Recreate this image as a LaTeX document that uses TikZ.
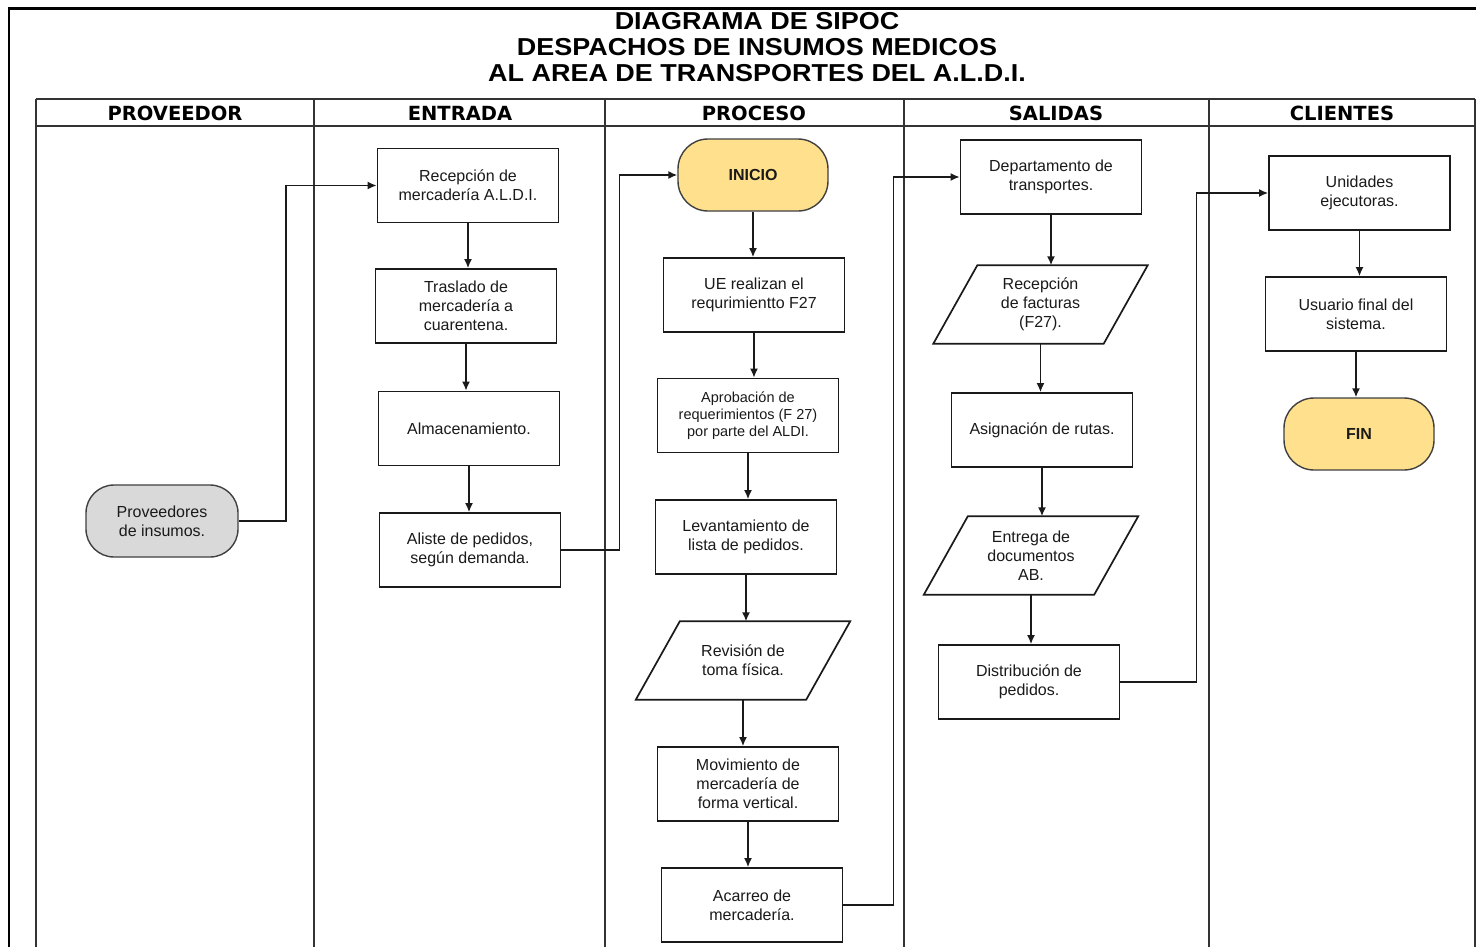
\documentclass[tikz,border=0pt]{standalone}
\usepackage{fontspec}
\setmainfont{Liberation Sans}
\newfontfamily\headfont{DejaVu Sans}
\usetikzlibrary{arrows.meta,calc}
\definecolor{startfill}{HTML}{FFE08C}
\definecolor{termgray}{HTML}{D9D9D9}
\definecolor{ink}{HTML}{1A1A1A}

\begin{document}
\begin{tikzpicture}[x=1pt,y=-1pt,
  frame/.style={line width=2.8pt, black},
  grid/.style={line width=1.8pt, black!80},
  box/.style={draw=ink, line width=1.7pt, minimum width=181pt, minimum height=74pt,
    align=center, inner sep=2pt, text=ink, font=\fontsize{16}{19}\selectfont},
  term/.style={draw=black!75, line width=1.4pt, rounded corners=30pt, fill=startfill,
    minimum width=150pt, minimum height=72pt, align=center, text=ink,
    font=\bfseries\fontsize{16}{19}\selectfont},
  paranode/.style={minimum width=170pt, minimum height=78pt, align=center, inner sep=2pt,
    text=ink, font=\fontsize{16}{19}\selectfont},
  para/.style={draw=ink, line width=1.7pt},
  head/.style={text=black, font=\headfont\bfseries\fontsize{19.5}{22}\selectfont},
  arr/.style={draw=ink, line width=1.6pt, -{Latex[length=9pt,width=8pt]}},
]
\useasboundingbox (0,0) rectangle (1476,946);
\clip (0,0) rectangle (1476,946);
\fill[white] (0,0) rectangle (1476,946);

% page frame
\draw[frame] (9,960) -- (9,8.5) -- (1490,8.5);

% title
\node[align=center, text=black, font=\bfseries\fontsize{24.5}{26}\selectfont] (title) at (757,47)
  {\scalebox{1.1}[1]{DIAGRAMA DE SIPOC}\\
   \scalebox{1.1}[1]{DESPACHOS DE INSUMOS MEDICOS}\\
   \scalebox{1.1}[1]{AL AREA DE TRANSPORTES DEL A.L.D.I.}};

% SIPOC table
\draw[grid] (36,99) -- (1475,99);
\draw[grid] (36,126) -- (1475,126);
\foreach \cx in {36,314,605,904,1209,1475}
  \draw[grid] (\cx,99) -- (\cx,960);

\node[head] (hprov) at (175,113) {PROVEEDOR};
\node[head] (hent)  at (460,113) {ENTRADA};
\node[head] (hproc) at (754,113) {PROCESO};
\node[head] (hsal)  at (1056,113) {SALIDAS};
\node[head] (hcli)  at (1342,113) {CLIENTES};

% proveedor
\node[term, fill=termgray, minimum width=152pt, rounded corners=28pt,
      font=\fontsize{16}{19}\selectfont] (prov) at (162,521) {Proveedores\\de insumos.};

% entrada
\node[box] (rec)  at (468,185.5) {Recepción de\\mercadería A.L.D.I.};
\node[box] (tras) at (466,306)   {Traslado de\\mercadería a\\cuarentena.};
\node[box] (alm)  at (469,428.5) {Almacenamiento.};
\node[box] (ali)  at (470,550)   {Aliste de pedidos,\\según demanda.};

% proceso
\node[term] (ini) at (753,175) {INICIO};
\node[box] (ue)   at (754,295)   {UE realizan el\\requrimientto F27};
\node[box, font=\fontsize{14.5}{17}\selectfont] (apr) at (748,415.5)
  {Aprobación de\\requerimientos (F 27)\\por parte del ALDI.};
\node[box] (lev)  at (746,537)   {Levantamiento de\\lista de pedidos.};
\node[paranode] (revi) at (743,660.5) {Revisión de\\toma física.};
\node[box] (mov)  at (748,784)   {Movimiento de\\mercadería de\\forma vertical.};
\node[box] (aca)  at (752,905)   {Acarreo de\\mercadería.};

% salidas
\node[box] (dep)  at (1051,177)    {Departamento de\\transportes.};
\node[paranode] (fac) at (1040.5,304.5) {Recepción\\de facturas\\(F27).};
\node[box] (asi)  at (1042,430)    {Asignación de rutas.};
\node[paranode] (ent) at (1031,555.5) {Entrega de\\documentos\\AB.};
\node[box] (dis)  at (1029,682)    {Distribución de\\pedidos.};

% clientes
\node[box] (uni)  at (1359.5,193) {Unidades\\ejecutoras.};
\node[box] (usu)  at (1356,314)   {Usuario final del\\sistema.};
\node[term] (fin) at (1359,434)   {FIN};

% data (parallelogram) outlines
\foreach \p in {revi,fac,ent}
  \draw[para] ([xshift=22pt]\p.north west) -- ([xshift=22pt]\p.north east)
    -- ([xshift=-22pt]\p.south east) -- ([xshift=-22pt]\p.south west) -- cycle;

% flow inside each column
\foreach \a/\b in {rec/tras, tras/alm, alm/ali, ini/ue, ue/apr, apr/lev, lev/revi,
                   revi/mov, mov/aca, dep/fac, fac/asi, asi/ent, ent/dis, uni/usu, usu/fin}
  \draw[arr] (\a.south) -- (\a.south |- \b.north);

% links between columns
\draw[arr] (prov.east) -- ++(47,0) |- (rec.west);
\draw[arr] (ali.east) -- ++(58,0) |- (ini.west);
\draw[arr] (aca.east) -- ++(50,0) |- (dep.west);
\draw[arr] (dis.east) -- ++(76,0) |- (uni.west);
\end{tikzpicture}
\end{document}
